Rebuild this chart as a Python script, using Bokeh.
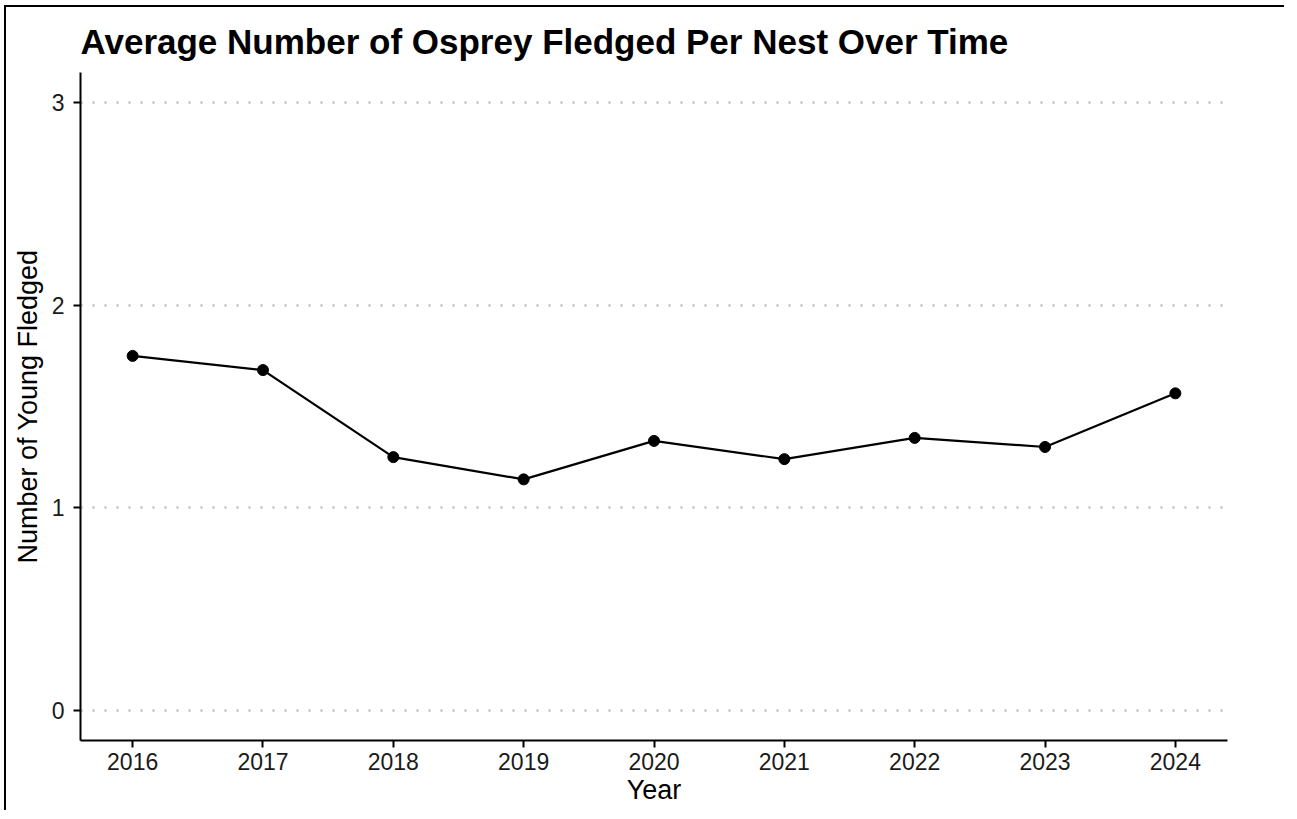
from bokeh.plotting import figure
from bokeh.models import Range1d, FixedTicker
from bokeh.embed import file_html
from bokeh.resources import INLINE

years = [2016, 2017, 2018, 2019, 2020, 2021, 2022, 2023, 2024]
avg_fledged = [1.75, 1.68, 1.25, 1.14, 1.33, 1.24, 1.345, 1.30, 1.565]
y_ticks = [0, 1, 2, 3]

FONT = "Liberation Sans"

p = figure(width=1280, height=805, output_backend="svg", toolbar_location=None,
           x_range=Range1d(2015.6, 2024.4), y_range=Range1d(-0.15, 3.15),
           title="Average Number of Osprey Fledged Per Nest Over Time",
           min_border_left=74, min_border_top=65, min_border_right=59, min_border_bottom=72)
p.styles = {"margin-left": "4px", "margin-top": "5px",
            "border-left": "2px solid black", "border-top": "2px solid black"}

p.title.text_font = FONT
p.title.text_font_size = "35px"
p.title.text_font_style = "bold"
p.title.text_color = "black"
p.title.offset = 0
p.title.standoff = 23

p.outline_line_color = None
p.background_fill_color = "white"
p.border_fill_color = "white"

p.xgrid.grid_line_color = None
p.ygrid.grid_line_color = "#bdbdbd"
p.ygrid.grid_line_width = 2.5
p.ygrid.grid_line_dash = "2 10"
p.ygrid.ticker = FixedTicker(ticks=y_ticks)

for ax in (p.xaxis, p.yaxis):
    ax.axis_line_color = "black"
    ax.axis_line_width = 2
    ax.major_tick_line_color = "black"
    ax.major_tick_line_width = 2
    ax.major_tick_out = 7
    ax.major_tick_in = 0
    ax.minor_tick_line_color = None
    ax.major_label_text_font = FONT
    ax.major_label_text_font_size = "23px"
    ax.major_label_text_color = "#1a1a1a"
    ax.axis_label_text_font = FONT
    ax.axis_label_text_font_size = "27px"
    ax.axis_label_text_font_style = "normal"
    ax.axis_label_text_color = "black"

p.xaxis.ticker = FixedTicker(ticks=years)
p.yaxis.ticker = FixedTicker(ticks=y_ticks)
p.xaxis.axis_label = "Year"
p.yaxis.axis_label = "Number of Young Fledged"
p.xaxis.major_label_standoff = 5
p.yaxis.major_label_standoff = 9
p.xaxis.axis_label_standoff = 2
p.yaxis.axis_label_standoff = 6

p.line(years, avg_fledged, line_color="black", line_width=2.2)
p.scatter(years, avg_fledged, size=11, fill_color="black", line_color="black")

open("out.html", "w").write(file_html(p, INLINE))
